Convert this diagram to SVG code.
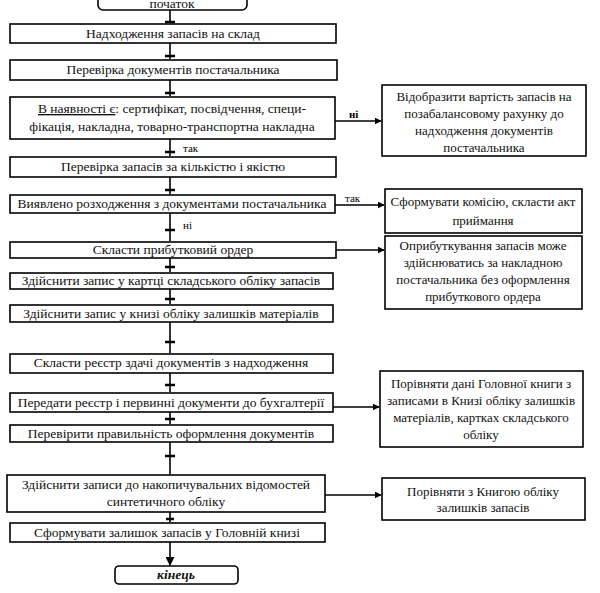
<svg xmlns="http://www.w3.org/2000/svg" width="600" height="593" viewBox="0 0 600 593">
<defs>
<marker id="ah" viewBox="0 0 10 10" refX="9" refY="5" markerWidth="7" markerHeight="7" markerUnits="userSpaceOnUse" orient="auto"><path d="M0,0 L10,5 L0,10 z" fill="#000"/></marker>
<marker id="ah2" viewBox="0 0 10 10" refX="9" refY="5" markerWidth="9" markerHeight="9" markerUnits="userSpaceOnUse" orient="auto"><path d="M0,0 L10,5 L0,10 z" fill="#000"/></marker>
</defs>
<style>
.b{fill:#fff;stroke:#000;stroke-width:1.6}
.t{font-size:13.5px;fill:#111;text-anchor:middle}
.r{font-size:13px;fill:#111;text-anchor:middle}
.lab{font-size:11px;fill:#000}
.c{stroke:#000;stroke-width:1.6;fill:none}
.bar{stroke:#000;stroke-width:2.5}
</style>
<rect width="600" height="593" fill="#fff"/>
<g id="connectors" font-family="Liberation Serif, DejaVu Serif, serif">
<line class="c" x1="170" y1="10" x2="170" y2="23"/><line class="bar" x1="165" y1="22" x2="175" y2="22"/>
<line class="c" x1="170" y1="43" x2="170" y2="59"/><line class="bar" x1="165" y1="56" x2="175" y2="56"/>
<line class="c" x1="170" y1="80" x2="170" y2="96"/><line class="bar" x1="165" y1="93" x2="175" y2="93"/>
<line class="c" x1="170" y1="139" x2="170" y2="156"/><line class="bar" x1="165" y1="152" x2="175" y2="152"/>
<line class="c" x1="170" y1="177" x2="170" y2="194"/><line class="bar" x1="165" y1="190" x2="175" y2="190"/>
<line class="c" x1="170" y1="213" x2="170" y2="241"/><line class="bar" x1="165" y1="230" x2="175" y2="230"/>
<line class="c" x1="170" y1="258" x2="170" y2="272"/><line class="bar" x1="165" y1="267" x2="175" y2="267"/>
<line class="c" x1="170" y1="289" x2="170" y2="304"/><line class="bar" x1="165" y1="299" x2="175" y2="299"/>
<line class="c" x1="170" y1="322" x2="170" y2="353"/><line class="bar" x1="165" y1="342" x2="175" y2="342"/>
<line class="c" x1="170" y1="373" x2="170" y2="392"/><line class="bar" x1="165" y1="385" x2="175" y2="385"/>
<line class="c" x1="170" y1="412" x2="170" y2="424"/><line class="bar" x1="165" y1="419" x2="175" y2="419"/>
<line class="c" x1="170" y1="442" x2="170" y2="474"/><line class="bar" x1="165" y1="456" x2="175" y2="456"/>
<line class="c" x1="170" y1="512" x2="170" y2="522"/><line class="bar" x1="166" y1="519" x2="174" y2="519"/>
<line class="c" x1="170" y1="542" x2="170" y2="565" marker-end="url(#ah2)"/>
<line class="c" x1="335" y1="121" x2="381" y2="121" marker-end="url(#ah)"/>
<line class="c" x1="335" y1="205" x2="384" y2="205" marker-end="url(#ah)"/>
<line class="c" x1="336" y1="250" x2="384" y2="250" marker-end="url(#ah)"/>
<line class="c" x1="333" y1="407" x2="379" y2="407" marker-end="url(#ah)"/>
<line class="c" x1="325" y1="495" x2="381" y2="495" marker-end="url(#ah)"/>
<text class="lab" x="349" y="118" font-weight="bold">ні</text>
<text class="lab" x="345" y="202">так</text>
<text class="lab" x="183" y="152" font-size="8">так</text>
<text class="lab" x="183" y="229" font-size="9">ні</text>
</g>
<g font-family="Liberation Serif, DejaVu Serif, serif">
<g id="start"><rect class="b" x="98" y="-20" width="149" height="30" rx="5"/><text class="t" x="172" y="8" font-size="7px">початок</text></g>
<g id="n1"><rect class="b" x="10" y="24" width="326" height="19"/><text class="t" x="173" y="38">Надходження запасів на склад</text></g>
<g id="n2"><rect class="b" x="10" y="60" width="327" height="20"/><text class="t" x="173" y="74">Перевірка документів постачальника</text></g>
<g id="n3"><rect class="b" x="10" y="97" width="325" height="42"/><text class="t" x="172" y="113"><tspan text-decoration="underline">В наявності є</tspan>: сертифікат, посвідчення, специ-</text><text class="t" x="172" y="131">фікація, накладна, товарно-транспортна накладна</text></g>
<g id="n4"><rect class="b" x="10" y="157" width="326" height="20"/><text class="t" x="173" y="171">Перевірка запасів за кількістю і якістю</text></g>
<g id="n5"><rect class="b" x="10" y="195" width="325" height="18"/><text class="t" x="172" y="208">Виявлено розходження з документами постачальника</text></g>
<g id="n6"><rect class="b" x="10" y="242" width="326" height="16"/><text class="t" x="173" y="254">Скласти прибутковий ордер</text></g>
<g id="n7"><rect class="b" x="10" y="273" width="323" height="16"/><text class="t" x="171" y="285">Здійснити запис у картці складського обліку запасів</text></g>
<g id="n8"><rect class="b" x="10" y="305" width="323" height="17"/><text class="t" x="171" y="318">Здійснити запис у книзі обліку залишків матеріалів</text></g>
<g id="n9"><rect class="b" x="10" y="354" width="323" height="19"/><text class="t" x="171" y="367">Скласти реєстр здачі документів з надходження</text></g>
<g id="n10"><rect class="b" x="10" y="393" width="323" height="19"/><text class="t" x="171" y="407">Передати реєстр і первинні документи до бухгалтерії</text></g>
<g id="n11"><rect class="b" x="10" y="425" width="323" height="17"/><text class="t" x="171" y="438">Перевірити правильність оформлення документів</text></g>
<g id="n12"><rect class="b" x="7" y="475" width="318" height="37"/><text class="t" x="166" y="489">Здійснити записи до накопичувальних відомостей</text><text class="t" x="166" y="506">синтетичного обліку</text></g>
<g id="n13"><rect class="b" x="10" y="523" width="315" height="19"/><text class="t" x="167" y="537">Сформувати залишок запасів у Головній книзі</text></g>
<g id="end"><rect class="b" x="115" y="566" width="123" height="18" rx="4"/><text class="t" x="176" y="579" font-weight="bold" font-style="italic">кінець</text></g>
<g id="r1"><rect class="b" x="382" y="85" width="204" height="71"/><text class="r" x="484" y="101">Відобразити вартість запасів на</text><text class="r" x="484" y="118">позабалансовому рахунку до</text><text class="r" x="484" y="135">надходження документів</text><text class="r" x="484" y="152">постачальника</text></g>
<g id="r2"><rect class="b" x="385" y="189" width="197" height="44"/><text class="r" x="483" y="206">Сформувати комісію, скласти акт</text><text class="r" x="483" y="225">приймання</text></g>
<g id="r3"><rect class="b" x="385" y="236" width="197" height="73"/><text class="r" x="483" y="250">Оприбуткування запасів може</text><text class="r" x="483" y="267">здійснюватись за накладною</text><text class="r" x="483" y="284">постачальника без оформлення</text><text class="r" x="483" y="301">прибуткового ордера</text></g>
<g id="r4"><rect class="b" x="380" y="371" width="203" height="76"/><text class="r" x="481" y="388">Порівняти дані Головної книги з</text><text class="r" x="481" y="405">записами в Книзі обліку залишків</text><text class="r" x="481" y="422">матеріалів, картках складського</text><text class="r" x="481" y="439">обліку</text></g>
<g id="r5"><rect class="b" x="382" y="478" width="203" height="42"/><text class="r" x="483" y="496">Порівняти з Книгою обліку</text><text class="r" x="483" y="512">залишків запасів</text></g>
</g>
</svg>
